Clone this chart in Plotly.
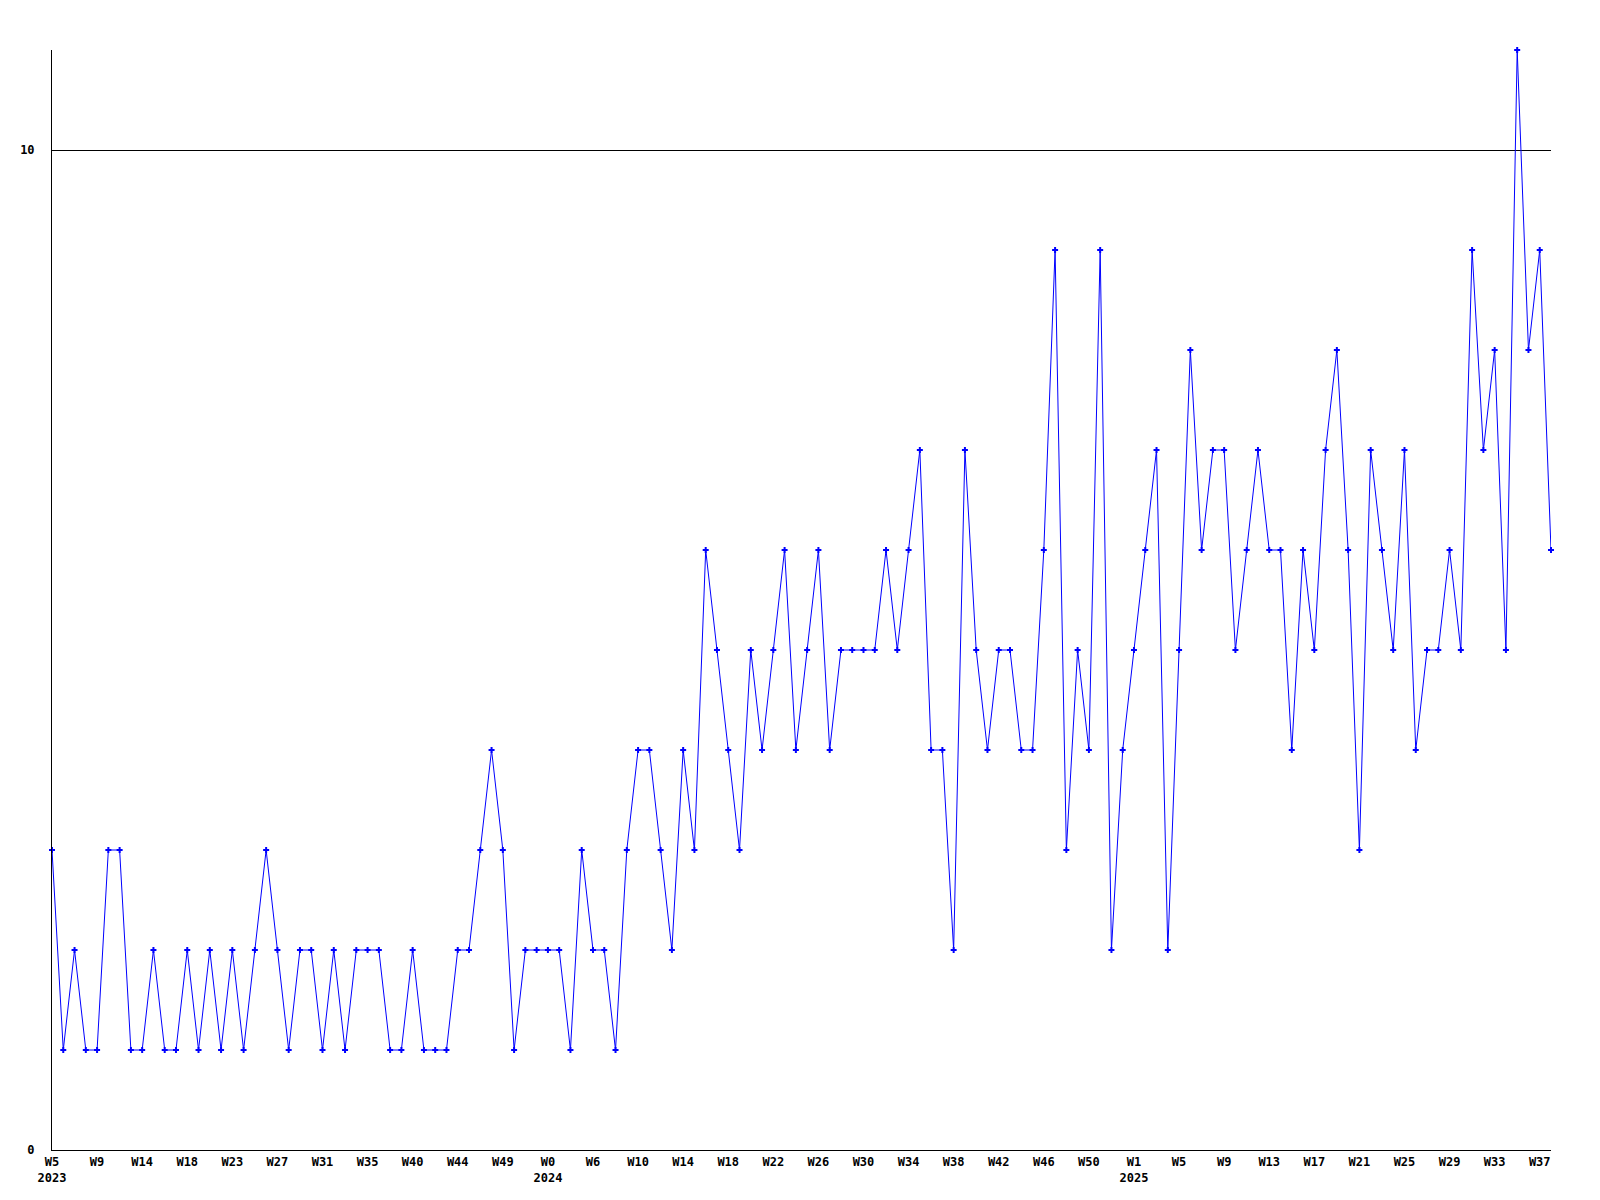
import plotly.graph_objects as go

# weekly counts, 2023 W5 .. 2025 W38
counts = [
    3, 1, 2, 1, 1, 3, 3, 1, 1, 2, 1, 1, 2, 1, 2, 1, 2, 1, 2, 3,
    2, 1, 2, 2, 1, 2, 1, 2, 2, 2, 1, 1, 2, 1, 1, 1, 2, 2, 3, 4,
    3, 1, 2, 2, 2, 2, 1, 3, 2, 2, 1, 3, 4, 4, 3, 2, 4, 3, 6, 5,
    4, 3, 5, 4, 5, 6, 4, 5, 6, 4, 5, 5, 5, 5, 6, 5, 6, 7, 4, 4,
    2, 7, 5, 4, 5, 5, 4, 4, 6, 9, 3, 5, 4, 9, 2, 4, 5, 6, 7, 2,
    5, 8, 6, 7, 7, 5, 6, 7, 6, 6, 4, 6, 5, 7, 8, 6, 3, 7, 6, 5,
    7, 4, 5, 5, 6, 5, 9, 7, 8, 5, 11, 8, 9, 6,
]

# one label every 4 weeks
week_ticks = [
    "W5", "W9", "W14", "W18", "W23", "W27", "W31", "W35", "W40", "W44", "W49",
    "W0", "W6", "W10", "W14", "W18", "W22", "W26", "W30", "W34", "W38", "W42",
    "W46", "W50", "W1", "W5", "W9", "W13", "W17", "W21", "W25", "W29", "W33",
    "W37",
]
year_ticks = {0: "2023", 11: "2024", 24: "2025"}

y_ticks = [0, 10]

x = list(range(len(counts)))
tickvals = [i * 4 for i in range(len(week_ticks))]
ticktext = []
for i, w in enumerate(week_ticks):
    if i in year_ticks:
        ticktext.append(w + "<br>" + year_ticks[i])
    else:
        ticktext.append(w)

fig = go.Figure()
fig.add_trace(
    go.Scatter(
        x=x,
        y=counts,
        mode="lines+markers",
        line=dict(color="#0000ff", width=1),
        marker=dict(symbol="cross", size=5, color="#0000ff", line=dict(width=0)),
        cliponaxis=False,
        showlegend=False,
    )
)

font = dict(family="DejaVu Sans Mono", size=12, color="black", weight="bold")

# page body has an 8px margin, so plot area lands at x 50..1551, y 50..1150
fig.update_layout(
    width=1600,
    height=1200,
    margin=dict(l=42, r=57, t=42, b=58),
    paper_bgcolor="white",
    plot_bgcolor="white",
    font=font,
)
fig.update_xaxes(
    range=[0, len(counts) - 1],
    tickvals=tickvals,
    ticktext=ticktext,
    showgrid=False,
    zeroline=False,
    showline=True,
    linecolor="black",
    linewidth=1,
    ticks="",
    ticklabelstandoff=1,
    tickfont=font,
)
fig.update_yaxes(
    range=[0, 11],
    tickvals=y_ticks,
    showgrid=True,
    gridcolor="black",
    gridwidth=1,
    zeroline=False,
    showline=True,
    linecolor="black",
    linewidth=1,
    ticks="",
    ticklabelstandoff=14,
    tickfont=font,
)

fig.write_html("out.html")
